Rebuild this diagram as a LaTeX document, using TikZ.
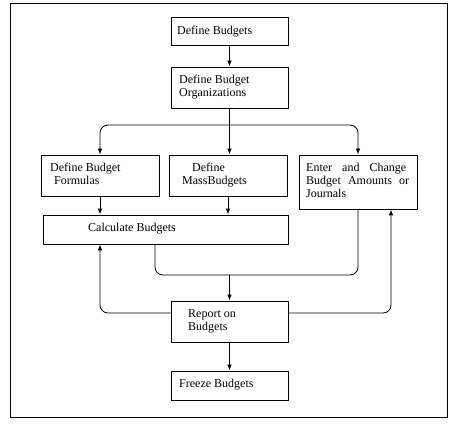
\documentclass[tikz,border=0pt]{standalone}
\usepackage{fontspec}
\setmainfont{Liberation Serif}
\usetikzlibrary{arrows.meta}

\newcommand{\budgetfont}{\fontsize{12pt}{13pt}\selectfont}

\begin{document}
\begin{tikzpicture}[x=1pt,y=-1pt,
		box/.style={draw,line width=0.8pt,inner sep=0pt,minimum width=117pt},
		txt/.style={font=\budgetfont,inner sep=0pt,align=left,anchor=base west},
		flow/.style={line width=0.8pt,rounded corners=8pt},
		arr/.style={flow,-{Latex[length=6pt,width=4.5pt]}}]
		\useasboundingbox (0,0) rectangle (450,427);

		% frame
		\draw[line width=0.8pt] (10,3) rectangle (447,417);

		% boxes
		\node[box,minimum height=28pt] (define) at (229.5,31) {};
		\node[box,minimum height=41pt] (org) at (229.5,87.5) {};
		\node[box,minimum width=118pt,minimum height=41pt] (form) at (100,175.5) {};
		\node[box,minimum width=118pt,minimum height=41pt] (mass) at (228,175.5) {};
		\node[box,minimum width=118pt,minimum height=54pt] (enter) at (358,182) {};
		\node[box,minimum width=245pt,minimum height=29pt] (calc) at (165.5,229.5) {};
		\node[box,minimum height=41pt] (report) at (229.5,321.5) {};
		\node[box,minimum height=29pt] (freeze) at (229.5,385.5) {};

		% texts (base is the last line)
		\node[txt] (defineT) at (177,34.5) {Define Budgets};
		\node[txt] (orgT) at (179,96.5) {Define Budget\\Organizations};
		\node[txt] (formT) at (50,185) {Define Budget\\\hspace*{4pt}Formulas};
		\node[txt] (massT) at (182,185) {\hspace*{10pt}Define\\MassBudgets};
		\node[txt] (enterT) at (306,198) {\makebox[100pt][s]{Enter and Change}\\\makebox[103pt][s]{Budget Amounts or}\\Journals};
		\node[txt] (calcT) at (88,232) {Calculate Budgets};
		\node[txt] (reportT) at (188,331) {Report on\\Budgets};
		\node[txt] (freezeT) at (179,388) {Freeze Budgets};

		% connectors
		\coordinate (split) at (229.5,125);
		\coordinate (merge) at (229.5,275);
		\draw[arr] (define) -- (org);
		\draw[arr] (org.south) -- (org.south |- mass.north);
		\draw[arr] (split) -| (form.north);
		\draw[arr] (split) -| (enter.north);
		\draw[arr] (form.south) -- (form.south |- calc.north);
		\draw[arr] (mass.south) -- (mass.south |- calc.north);
		\draw[flow] (155,0 |- calc.south) |- (merge) -| (enter.south);
		\draw[arr] (merge) -- (report.north);
		\draw[arr] ([yshift=8.5pt]report.west) -| (calc.south -| form.south);
		\draw[arr] ([yshift=8.5pt]report.east) -| (391,0 |- enter.south);
		\draw[arr] (report) -- (freeze);
	\end{tikzpicture}
\end{document}
